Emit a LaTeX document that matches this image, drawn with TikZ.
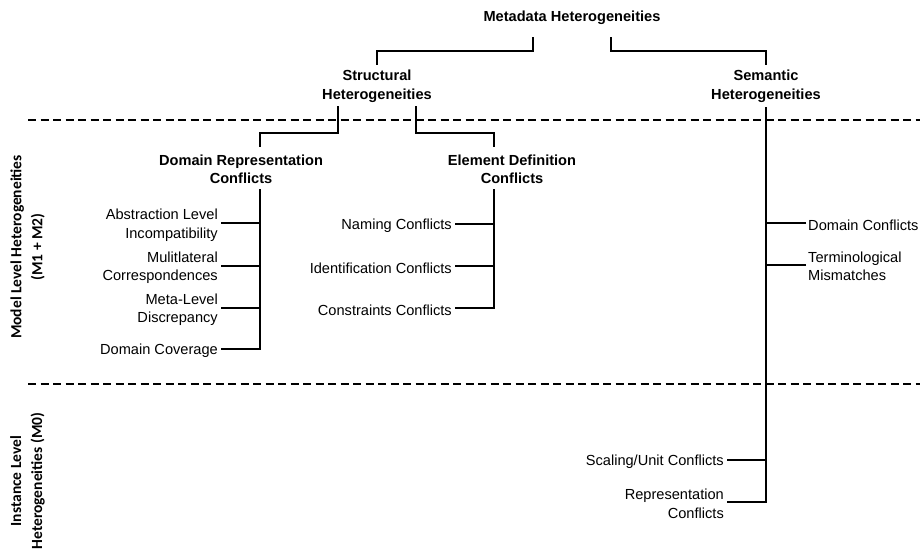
\documentclass[tikz,border=0pt]{standalone}
\usepackage{fontspec}
\setmainfont{Liberation Sans}
\newfontfamily\calibfont{Carlito}
\begin{document}
\begin{tikzpicture}[x=1pt,y=-1pt,
  conn/.style={line width=2pt},
  sepline/.style={line width=1.5pt, dash pattern=on 8pt off 4.5pt},
  txt/.style={font=\fontsize{14.6}{18.5}\selectfont, inner sep=0pt},
  head/.style={txt, font=\fontsize{14.6}{18.5}\selectfont\bfseries, align=center},
  leafL/.style={txt, align=right, anchor=east},
  leafR/.style={txt, align=left, anchor=west},
  side/.style={font=\calibfont\bfseries\fontsize{15.5}{21}\selectfont, align=center, rotate=90, inner sep=0pt}]
\useasboundingbox (0,0) rectangle (920,557);

% separators
\coordinate (s1a) at (28,120); \coordinate (s1b) at (920,120);
\coordinate (s2a) at (28,384); \coordinate (s2b) at (920,384);
\draw[sepline] (s1a) -- (s1b);
\draw[sepline] (s2a) -- (s2b);

% side labels
\node[side] (model) at (27.5,247) {Model Level Heterogeneities\\(M1 + M2)};
\node[side] (inst) at (27.5,481) {Instance Level\\Heterogeneities (M0)};

% headers
\node[head] (meta) at (572,18) {Metadata Heterogeneities};
\node[head] (struct) at (377,86.5) {Structural\\Heterogeneities};
\node[head] (sem) at (766,86.5) {Semantic\\Heterogeneities};
\node[head] (domrep) at (241,169.5) {Domain Representation\\Conflicts};
\node[head] (eldef) at (512,169.5) {Element Definition\\Conflicts};

% junction coordinates
\coordinate (mL) at (533,37);
\coordinate (mR) at (611,37);
\coordinate (stT) at (377,65);
\coordinate (seT) at (766,65);
\coordinate (stL) at (338,106);
\coordinate (stR) at (416,106);
\coordinate (drT) at (260,147);
\coordinate (edT) at (494,147);
\coordinate (drB) at (260,189);
\coordinate (edB) at (494,189);
\coordinate (seB) at (766,107);

\draw[conn] (mL) -- ++(0,13.5) -| (stT);
\draw[conn] (mR) -- ++(0,13.5) -| (seT);
\draw[conn] (stL) -- ++(0,27) -| (drT);
\draw[conn] (stR) -- ++(0,27) -| (edT);

\tikzset{pE/.style={xshift=3pt,yshift=2pt}, pW/.style={xshift=-2pt,yshift=2pt}, pY/.style={yshift=2pt}}

% domain representation leaves
\node[leafL] (a1) at (218,225) {Abstraction Level\\Incompatibility};
\node[leafL] (a2) at (218,267.5) {Mulitlateral\\Correspondences};
\node[leafL] (a3) at (218,309.5) {Meta-Level\\Discrepancy};
\node[leafL] (a4) at (218,351) {Domain Coverage};
\draw[conn] (drB) -- ([pY]a4.east -| drB) -- ([pE]a4.east);
\foreach \n in {a1,a2,a3}{\draw[conn] ([pE]\n.east) -- ([pY]\n.east -| drB);}

% element definition leaves
\node[leafL] (b1) at (452,226) {Naming Conflicts};
\node[leafL] (b2) at (452,268) {Identification Conflicts};
\node[leafL] (b3) at (452,310) {Constraints Conflicts};
\draw[conn] (edB) -- ([pY]b3.east -| edB) -- ([pE]b3.east);
\foreach \n in {b1,b2}{\draw[conn] ([pE]\n.east) -- ([pY]\n.east -| edB);}

% semantic leaves
\node[leafR] (c1) at (808,225) {Domain Conflicts};
\node[leafR] (c2) at (808,266.5) {Terminological\\Mismatches};
\node[leafL] (d1) at (724,462) {Scaling/Unit Conflicts};
\node[leafL] (d2) at (724,504) {Representation\\Conflicts};
\draw[conn] (seB) -- ([pY]d2.east -| seB) -- ([pE]d2.east);
\foreach \n in {c1,c2}{\draw[conn] ([pW]\n.west) -- ([pY]\n.west -| seB);}
\draw[conn] ([pE]d1.east) -- ([pY]d1.east -| seB);
\end{tikzpicture}
\end{document}
